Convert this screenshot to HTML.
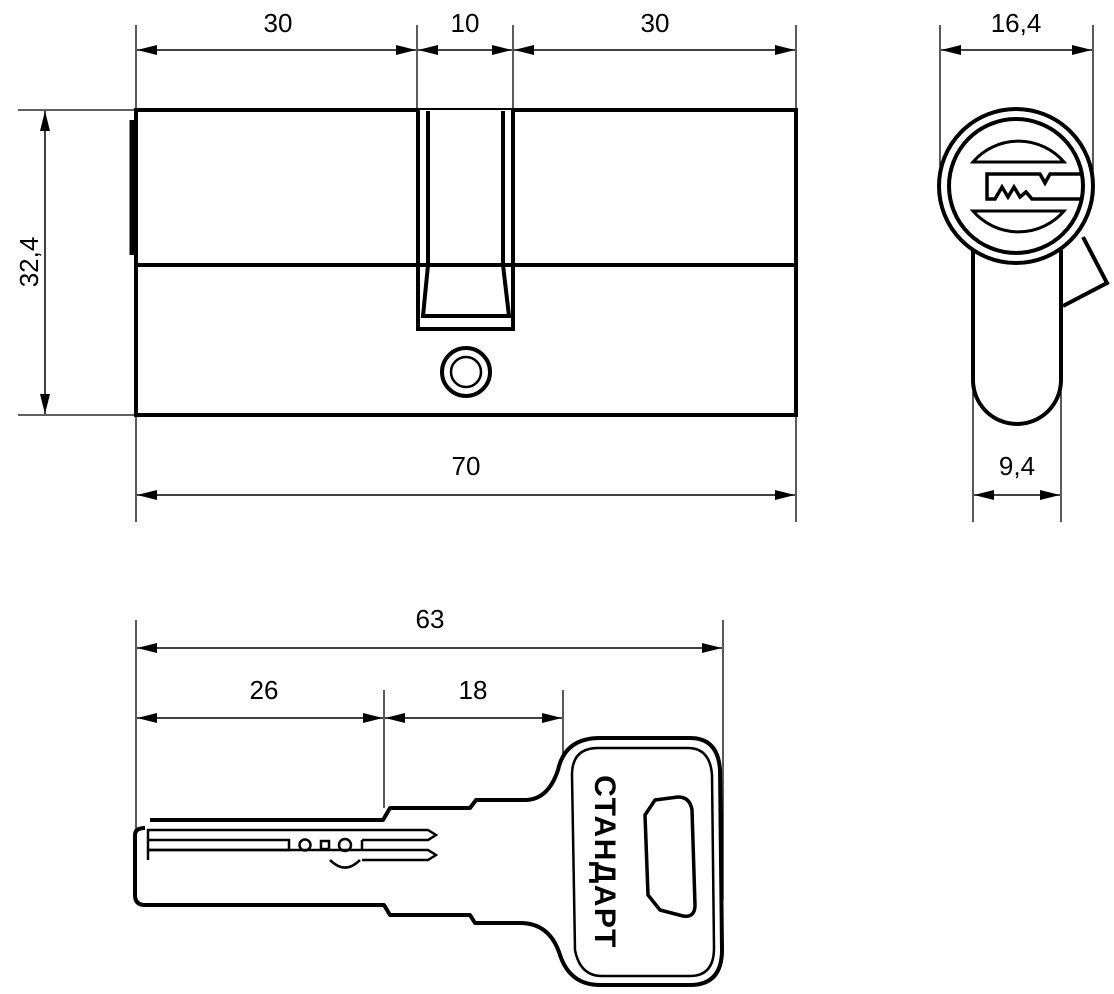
<!DOCTYPE html>
<html><head><meta charset="utf-8"><style>
html,body{margin:0;padding:0;background:#fff}
svg{display:block}
text{font-family:"Liberation Sans",sans-serif;font-size:26px;fill:#000}
</style></head><body>
<svg width="1114" height="994" viewBox="0 0 1114 994" xmlns="http://www.w3.org/2000/svg">
<defs>
<marker id="a" viewBox="0 0 20 10" refX="20" refY="5" markerWidth="20" markerHeight="10" markerUnits="userSpaceOnUse" orient="auto-start-reverse"><path d="M0,0 L20,5 L0,10 Z" fill="#000"/></marker>
</defs>
<g stroke="#000" fill="none">
<g stroke-width="1.3">
<line x1="136" y1="25" x2="136" y2="110"/><line x1="417" y1="25" x2="417" y2="110"/>
<line x1="513" y1="25" x2="513" y2="110"/><line x1="796" y1="25" x2="796" y2="110"/>
<line x1="18" y1="110" x2="136" y2="110"/><line x1="18" y1="415" x2="136" y2="415"/>
<line x1="136" y1="415" x2="136" y2="522"/><line x1="796" y1="415" x2="796" y2="522"/>
<line x1="940" y1="25" x2="940" y2="185"/><line x1="1093" y1="25" x2="1093" y2="185"/>
<line x1="973" y1="380" x2="973" y2="522"/><line x1="1061" y1="380" x2="1061" y2="522"/>
<line x1="136" y1="620" x2="136" y2="830"/><line x1="723" y1="620" x2="723" y2="900"/>
<line x1="384" y1="690" x2="384" y2="808"/><line x1="563" y1="690" x2="563" y2="760"/>
</g>
<g stroke-width="1.5" marker-start="url(#a)" marker-end="url(#a)">
<line x1="137" y1="50" x2="416" y2="50"/><line x1="418" y1="50" x2="512" y2="50"/><line x1="514" y1="50" x2="795" y2="50"/>
<line x1="45" y1="111" x2="45" y2="414"/>
<line x1="137" y1="495" x2="795" y2="495"/>
<line x1="941" y1="50" x2="1092" y2="50"/>
<line x1="974" y1="495" x2="1060" y2="495"/>
<line x1="137" y1="648" x2="722" y2="648"/>
<line x1="137" y1="718" x2="383" y2="718"/><line x1="385" y1="718" x2="562" y2="718"/>
</g>
<g stroke-width="4">
<rect x="136" y="110" width="660" height="305"/>
<line x1="136" y1="265" x2="796" y2="265"/>
<line x1="132" y1="120" x2="132" y2="255" stroke-width="5"/>
<path d="M418,110 V329 H513 V110" fill="#fff"/>
<path d="M428,111 V265 L423,316 H509 L503,265 V111" />
<line x1="418" y1="265" x2="513" y2="265"/>
<circle cx="466" cy="372" r="24"/>
<circle cx="466" cy="372" r="15" stroke-width="2.5"/>
</g>
<g stroke-width="4">
<path d="M1083,237 L1107,283 L1063,306" fill="#fff"/>
<path d="M973,250 V380 A44,44 0 0 0 1061,380 V250" fill="#fff"/>
<circle cx="1016" cy="186" r="77" fill="#fff"/>
<circle cx="1016" cy="186" r="67"/>
<path d="M973,162 A60,60 0 0 1 1064,162 Z" stroke-width="3"/>
<path d="M973,211 A60,60 0 0 0 1064,211 Z" stroke-width="3"/>
<path d="M1082,174 H1050 L1045,183 L1040,174 H987 V199 H995 L1002,187 L1008,197 L1014,187 L1020,197 L1026,192 L1032,199 H1082" stroke-width="3.5"/>
</g>
<g stroke-width="4" stroke-linejoin="round">
<path d="M150,820 H383 L390,808 H470 L476,800 H525 Q548,800 558,770 Q565,738 600,738 H690 Q718,738 720,770 L722,950 Q722,985 690,985 H600 Q570,985 560,955 Q550,923 520,923 H475 L470,915 H390 L384,905 H145 Q135,905 135,895 V835 Q135,828 145,828"/>
<path d="M598,748 H688 Q710,748 712,775 L714,948 Q714,976 690,976 H602 Q580,976 575,950 L572,775 Q572,748 598,748 Z" stroke-width="2.5"/>
<path d="M655,800 L678,797 Q690,797 692,810 L695,905 Q695,918 683,916 L660,910 L648,895 L645,815 Z" stroke-width="3.5"/>
</g>
<g stroke-width="2.5">
<path d="M148,860 V830 H428 L436,835 L428,840 H362"/>
<path d="M148,850 H428 L436,855 L428,860 H362"/>
<path d="M148,840 H289 V850 H148"/>
<line x1="362" y1="840" x2="362" y2="850"/>
<circle cx="305" cy="845" r="5.5"/><rect x="321" y="841" width="8" height="8"/><circle cx="345" cy="845" r="6"/>
<path d="M330,860 Q345,875 360,860"/>
</g>
</g>
<text x="278" y="32" text-anchor="middle">30</text>
<text x="465" y="32" text-anchor="middle">10</text>
<text x="655" y="32" text-anchor="middle">30</text>
<text x="1016" y="32" text-anchor="middle">16,4</text>
<text x="466" y="475" text-anchor="middle">70</text>
<text x="1017" y="475" text-anchor="middle">9,4</text>
<text x="430" y="628" text-anchor="middle">63</text>
<text x="264" y="699" text-anchor="middle">26</text>
<text x="473" y="699" text-anchor="middle">18</text>
<text transform="translate(38,262) rotate(-90)" text-anchor="middle">32,4</text>
<text transform="translate(595,862) rotate(90)" text-anchor="middle" style="font-weight:bold;font-size:30px;letter-spacing:1.5px">СТАНДАРТ</text>
</svg>
</body></html>
